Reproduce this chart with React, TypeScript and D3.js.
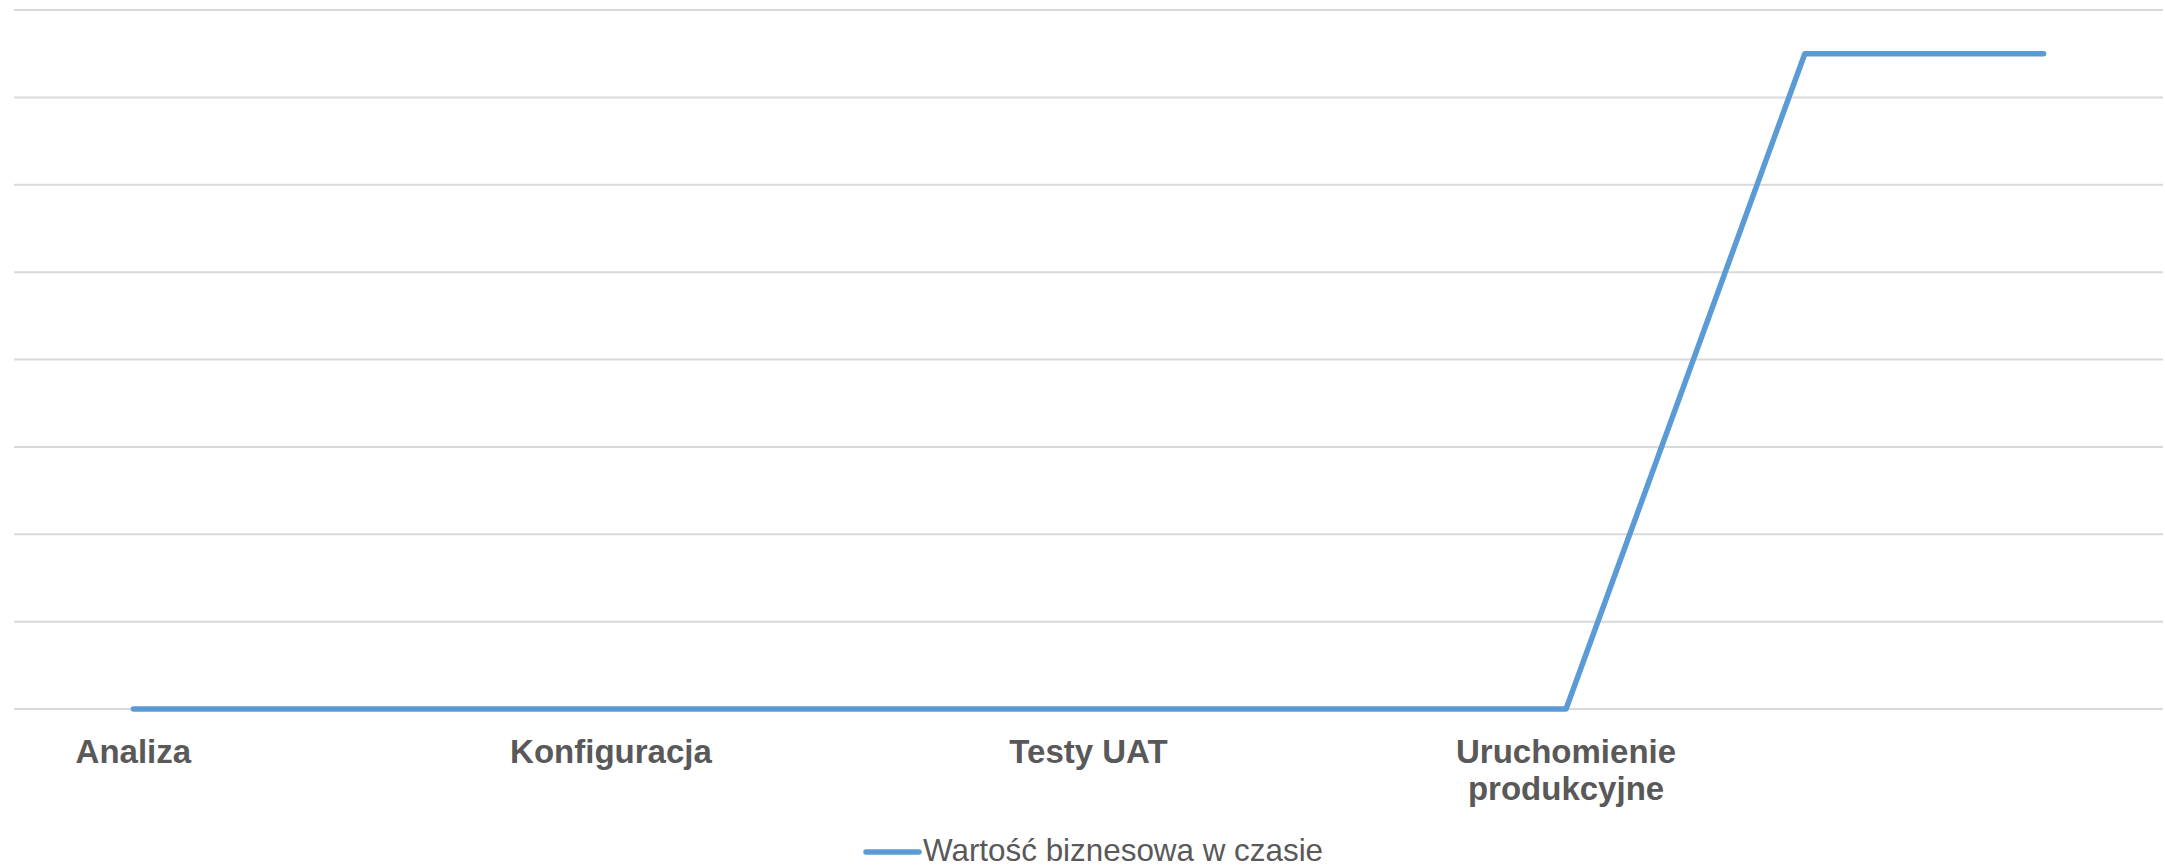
import React from 'react';
import * as d3 from 'd3';

// Project phases (9 slots on the time axis, every other one labelled)
const categories = ['c1', 'c2', 'c3', 'c4', 'c5', 'c6', 'c7', 'c8', 'c9'];
const categoryLabels = [
    ['Analiza'],
    [],
    ['Konfiguracja'],
    [],
    ['Testy UAT'],
    [],
    ['Uruchomienie', 'produkcyjne'],
    [],
    [],
];
const businessValue = [0, 0, 0, 0, 0, 0, 0, 7.5, 7.5];
const gridTicks = [0, 1, 2, 3, 4, 5, 6, 7, 8];
const seriesName = 'Wartość biznesowa w czasie';

const WIDTH = 2165;
const HEIGHT = 867;
const LINE_COLOR = '#5B9BD5';
const GRID_COLOR = '#D9D9D9';
const TEXT_COLOR = '#595959';

export default function App() {
    const plot = { left: 14, right: 2163, top: 10, bottom: 709 };

    const x = d3.scalePoint<string>()
        .domain(categories)
        .range([plot.left, plot.right])
        .padding(0.5);

    const y = d3.scaleLinear()
        .domain([0, 8])
        .range([plot.bottom, plot.top]);

    const line = d3.line<number>()
        .x((_, i) => x(categories[i]) as number)
        .y(d => y(d));

    const legendX = 866;
    const legendY = 852;

    return (
        <svg
            width={WIDTH}
            height={HEIGHT}
            style={{ position: 'absolute', left: 0, top: 0, background: '#fff' }}
        >
            {/* horizontal gridlines */}
            {gridTicks.map(t => (
                <line
                    key={t}
                    x1={plot.left}
                    x2={plot.right}
                    y1={y(t)}
                    y2={y(t)}
                    stroke={GRID_COLOR}
                    strokeWidth={2}
                />
            ))}

            {/* category labels */}
            {categoryLabels.map((lines, i) => (
                <text
                    key={i}
                    x={x(categories[i])}
                    y={763}
                    textAnchor="middle"
                    fontFamily="'Liberation Sans', Arial, sans-serif"
                    fontWeight="bold"
                    fontSize={33}
                    fill={TEXT_COLOR}
                >
                    {lines.map((l, j) => (
                        <tspan key={j} x={x(categories[i])} dy={j === 0 ? 0 : 37}>{l}</tspan>
                    ))}
                </text>
            ))}

            {/* series line */}
            <path
                d={line(businessValue) || ''}
                fill="none"
                stroke={LINE_COLOR}
                strokeWidth={5.5}
                strokeLinecap="round"
                strokeLinejoin="round"
            />

            {/* legend */}
            <line
                x1={legendX}
                x2={legendX + 53}
                y1={legendY}
                y2={legendY}
                stroke={LINE_COLOR}
                strokeWidth={5.5}
                strokeLinecap="round"
            />
            <text
                x={legendX + 57}
                y={861}
                fontFamily="'Liberation Sans', Arial, sans-serif"
                fontSize={31.4}
                fill={TEXT_COLOR}
            >
                {seriesName}
            </text>
        </svg>
    );
}
